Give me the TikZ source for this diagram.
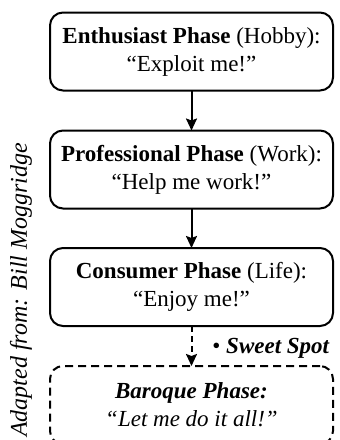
\documentclass[tikz,border=0pt]{standalone}
\usepackage{fontspec}
\setmainfont{Liberation Serif}
\usetikzlibrary{arrows.meta}

\begin{document}
\begin{tikzpicture}[x=1pt, y=-1pt, node distance=0 cm, outer sep = 0pt]

\tikzstyle{phase}=[draw, line width=2pt, rounded corners=13pt, minimum height=78pt, minimum width=283pt, align=center, font=\fontsize{23}{28}\selectfont]
\tikzstyle{link}=[line width=2pt, -{Stealth[length=12pt, width=11pt, inset=2pt]}]
\useasboundingbox (0,0) rectangle (340,440);

\node[phase] (hobby) at (191.5,51.5) {\textbf{Enthusiast Phase} (Hobby):\\``Exploit me!''};
\node[phase] (work) at (191.5,169.5) {\textbf{Professional Phase} (Work):\\``Help me work!''};
\node[phase] (life) at (191.5,287) {\textbf{Consumer Phase} (Life):\\``Enjoy me!''};
\node[phase, dash pattern=on 8pt off 5pt] (baroque) at (191.5,405) {\textbf{\textit{Baroque Phase:}}\\\textit{``Let me do it all!''}};

\draw[link] (hobby) -- (work);
\draw[link] (work) -- (life);
\draw[link, dash pattern=on 6pt off 4pt] (life) -- (baroque);

\node[anchor=base east, font=\fontsize{23}{28}\selectfont] (sweet) at (333,353) {\textbullet\ \textbf{\textit{Sweet Spot}}};
\node[rotate=90, anchor=base west, font=\fontsize{24}{28}\selectfont\itshape] (credit) at (27,440) {Adapted from: Bill Moggridge};

\end{tikzpicture}
\end{document}
